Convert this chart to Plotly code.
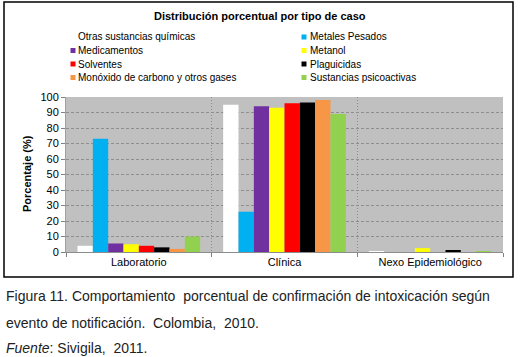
import plotly.graph_objects as go

categories = ["Laboratorio", "Clínica", "Nexo Epidemiológico"]
series_names = [
    "Otras sustancias químicas",
    "Metales Pesados",
    "Medicamentos",
    "Metanol",
    "Solventes",
    "Plaguicidas",
    "Monóxido de carbono y otros gases",
    "Sustancias psicoactivas",
]
series_colors = ["#FFFFFF", "#00B0F0", "#7030A0", "#FFFF00",
                 "#FF0000", "#000000", "#F79646", "#92D050"]
otras = [4, 95, 0.5]
metales = [73, 26, 0]
medicamentos = [5.5, 94, 0]
metanol = [5, 93, 2.5]
solventes = [4, 96, 0]
plaguicidas = [3, 96.5, 0.8]
monoxido = [2, 98, 0]
psicoactivas = [10, 89, 0.3]
series_values = [otras, metales, medicamentos, metanol, solventes,
                 plaguicidas, monoxido, psicoactivas]
y_ticks = list(range(0, 101, 10))

W, H = 521, 357
L, R, T, B = 66, 18, 97, 105
PW, PH = W - L - R, H - T - B
FONT = "Liberation Sans, Arial, sans-serif"


def px(x):
    return (x - L) / PW


def py(y):
    return (H - B - y) / PH


fig = go.Figure()
for name, color, vals in zip(series_names, series_colors, series_values):
    fig.add_trace(go.Bar(x=categories, y=vals, name=name,
                         marker=dict(color=color, line=dict(width=0)),
                         showlegend=False))

shapes = []
annotations = []
# outer frame
shapes.append(dict(type="rect", xref="paper", yref="paper",
                   x0=px(4), x1=px(513), y0=py(277), y1=py(2),
                   line=dict(color="#000000", width=1.5), layer="below"))
# legend (manual, 2 columns)
col_marker_x = [70.5, 301.5]
col_text_x = [76, 307.5]
row_y = [37, 50.5, 64, 77.5]
for i, (name, color) in enumerate(zip(series_names, series_colors)):
    c, r = i % 2, i // 2
    mx, ty = col_marker_x[c], row_y[r]
    shapes.append(dict(type="rect", xref="paper", yref="paper",
                       x0=px(mx), x1=px(mx + 5), y0=py(ty + 2.5), y1=py(ty - 2.5),
                       fillcolor=color, line=dict(width=0)))
    annotations.append(dict(text=name, xref="paper", yref="paper",
                            x=px(col_text_x[c]), y=py(ty), xanchor="left",
                            yanchor="middle", showarrow=False,
                            font=dict(family=FONT, size=10, color="#000000")))
# title
annotations.append(dict(text="<b>Distribución porcentual por tipo de caso</b>",
                        xref="paper", yref="paper", x=px(260), y=py(16),
                        xanchor="center", yanchor="middle", showarrow=False,
                        font=dict(family=FONT, size=11, color="#000000")))
# y-axis title
annotations.append(dict(text="<b>Porcentaje (%)</b>", xref="paper", yref="paper",
                        x=px(27), y=py(174), xanchor="center", yanchor="middle",
                        textangle=-90, showarrow=False,
                        font=dict(family=FONT, size=11, color="#000000")))
# caption
cap_lines = [
    ("Figura 11. Comportamiento&nbsp; porcentual de confirmación de intoxicación según", 296),
    ("evento de notificación.&nbsp; Colombia,&nbsp; 2010.", 323),
    ("<i>Fuente</i>: Sivigila,&nbsp; 2011.", 348),
]
for txt, yy in cap_lines:
    annotations.append(dict(text=txt, xref="paper", yref="paper", x=px(4), y=py(yy),
                            xanchor="left", yanchor="middle", showarrow=False,
                            font=dict(family=FONT, size=14, color="#222222")))

fig.update_layout(
    width=W, height=H,
    margin=dict(l=L, r=R, t=T, b=B, pad=0),
    paper_bgcolor="#FFFFFF",
    plot_bgcolor="#C0C0C0",
    barmode="group", bargap=0.158, bargroupgap=0,
    showlegend=False,
    shapes=shapes, annotations=annotations,
    font=dict(family=FONT, size=11, color="#000000"),
)
fig.update_xaxes(type="category", tickson="boundaries", ticks="outside", ticklen=4,
                 tickcolor="#808080", showgrid=True, gridcolor="#8C8C8C",
                 griddash="1px,2px", gridwidth=1, showline=True, linecolor="#8C8C8C",
                 tickfont=dict(family=FONT, size=11, color="#000000"))
fig.update_yaxes(range=[0, 100], tickvals=y_ticks, ticks="outside", ticklen=4,
                 tickcolor="#808080", showgrid=True, gridcolor="#8E8E8E",
                 griddash="3px,2px", gridwidth=1, showline=True, linecolor="#A0A0A0",
                 zeroline=False,
                 tickfont=dict(family=FONT, size=11, color="#000000"))

fig.write_html("out.html", config={"displayModeBar": False},
               post_script="document.body.style.margin='0px';"
                           "document.body.style.overflow='hidden';")
